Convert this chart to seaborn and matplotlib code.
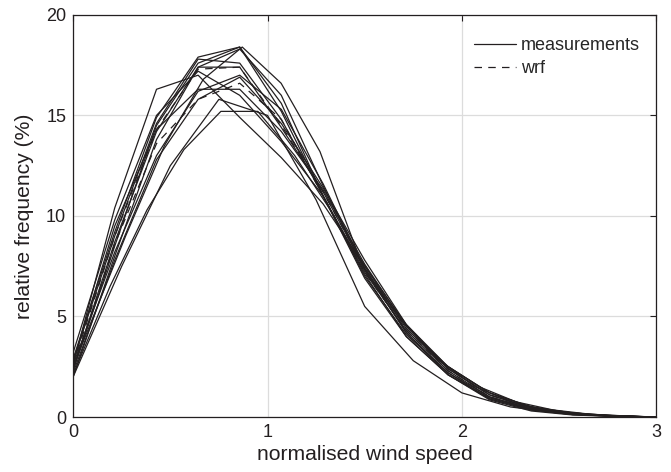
import matplotlib
matplotlib.use("Agg")
import matplotlib.pyplot as plt
import seaborn as sns
from matplotlib.lines import Line2D

# regular bin centres (most stations)
x_grid = [0.0, 0.214, 0.429, 0.643, 0.857, 1.071, 1.286, 1.5, 1.714, 1.929, 2.143, 2.357, 2.571, 2.786, 3.0]

meas_1 = [2.6, 10.4, 16.3, 17.0, 14.9, 12.9, 10.6, 7.5, 4.6, 2.5, 1.2, 0.5, 0.2, 0.06, 0.0]
meas_2 = [2.3, 8.5, 14.5, 17.6, 18.4, 15.2, 11.0, 7.2, 4.3, 2.3, 1.0, 0.4, 0.15, 0.05, 0.0]
meas_3 = [2.0, 8.0, 13.8, 17.4, 18.3, 16.0, 11.5, 7.3, 4.2, 2.2, 0.9, 0.35, 0.12, 0.04, 0.0]
meas_4 = [2.8, 9.0, 14.6, 17.8, 17.6, 14.8, 11.0, 7.0, 4.1, 2.2, 1.0, 0.4, 0.15, 0.05, 0.0]
meas_5 = [2.4, 8.7, 14.2, 17.4, 17.4, 14.4, 11.2, 7.4, 4.4, 2.4, 1.1, 0.45, 0.17, 0.05, 0.0]
meas_6 = [2.7, 9.5, 14.3, 16.3, 16.3, 14.2, 11.3, 7.6, 4.5, 2.5, 1.2, 0.5, 0.2, 0.06, 0.0]
meas_7 = [2.2, 7.8, 12.8, 15.8, 16.9, 14.6, 11.4, 7.8, 4.6, 2.4, 1.1, 0.45, 0.17, 0.05, 0.0]
meas_8 = [3.2, 9.8, 15.0, 17.2, 16.0, 13.7, 11.0, 7.1, 4.0, 2.1, 0.9, 0.35, 0.12, 0.04, 0.0]
meas_9 = [2.6, 8.2, 13.0, 16.2, 17.0, 15.3, 11.6, 7.4, 4.2, 2.1, 0.85, 0.3, 0.1, 0.03, 0.0]
meas_10 = [2.9, 9.2, 14.9, 17.9, 18.4, 15.6, 11.0, 6.9, 4.0, 2.1, 0.95, 0.38, 0.14, 0.04, 0.0]

# stations with other bin centres
x_grid_b = [0.0, 0.19, 0.38, 0.57, 0.76, 0.95, 1.14, 1.33, 1.52, 1.71, 1.9, 2.09, 2.28, 2.47, 2.66, 2.85, 3.0]
meas_11 = [2.1, 6.5, 10.3, 13.3, 15.2, 15.2, 13.0, 10.2, 7.0, 4.6, 2.7, 1.5, 0.75, 0.35, 0.14, 0.05, 0.0]

x_grid_c = [0.0, 0.25, 0.5, 0.75, 1.0, 1.25, 1.5, 1.75, 2.0, 2.25, 2.5, 2.75, 3.0]
meas_12 = [2.0, 7.5, 12.5, 15.8, 15.0, 10.8, 5.5, 2.8, 1.2, 0.5, 0.2, 0.05, 0.0]

x_grid_d = [0.0, 0.27, 0.47, 0.67, 0.87, 1.07, 1.27, 1.47, 1.67, 1.87, 2.07, 2.27, 2.47, 2.67, 2.87, 3.0]
meas_13 = [2.5, 9.0, 13.5, 16.8, 18.4, 16.6, 13.2, 8.0, 5.0, 2.9, 1.5, 0.7, 0.3, 0.12, 0.04, 0.0]

wrf_1 = [2.4, 8.6, 13.6, 15.8, 16.6, 14.8, 11.0, 7.2, 4.3, 2.3, 1.0, 0.4, 0.15, 0.05, 0.0]
wrf_2 = [2.6, 9.0, 14.3, 17.3, 17.4, 14.5, 11.2, 7.4, 4.4, 2.4, 1.1, 0.45, 0.17, 0.05, 0.0]

measurements = [
    (x_grid, meas_1), (x_grid, meas_2), (x_grid, meas_3), (x_grid, meas_4),
    (x_grid, meas_5), (x_grid, meas_6), (x_grid, meas_7), (x_grid, meas_8),
    (x_grid, meas_9), (x_grid, meas_10), (x_grid_b, meas_11),
    (x_grid_c, meas_12), (x_grid_d, meas_13),
]
wrf = [(x_grid, wrf_1), (x_grid, wrf_2)]

sns.set_theme(style="white")
plt.rcParams['font.family'] = ['Liberation Sans', 'DejaVu Sans']

fig = plt.figure(figsize=(6.71, 4.72), dpi=100)
ax = fig.add_axes([0.109, 0.1165, 0.869, 0.852])

ink = '#231f20'
lw = 0.9
dash = (6, 5)
for xs, ys in wrf:
    sns.lineplot(x=xs, y=ys, ax=ax, color=ink, lw=lw, dashes=dash,
                 sort=False, estimator=None)
for xs, ys in measurements:
    sns.lineplot(x=xs, y=ys, ax=ax, color=ink, lw=lw,
                 sort=False, estimator=None)

ax.set_xlim(0, 3)
ax.set_ylim(0, 20)
ax.set_xticks([0, 1, 2, 3])
ax.set_yticks([0, 5, 10, 15, 20])
ax.grid(True, color='#dcdcdc', lw=0.9)
ax.set_axisbelow(True)
for s in ax.spines.values():
    s.set_color(ink)
    s.set_linewidth(0.9)
ax.tick_params(direction='in', length=4, width=0.8, top=True, right=True,
               labelsize=13, colors=ink, pad=5)
ax.set_xlabel('normalised wind speed', fontsize=15.2, color=ink, labelpad=3)
ax.set_ylabel('relative frequency (%)', fontsize=15.2, color=ink, labelpad=9)

handles = [Line2D([], [], color=ink, lw=lw, linestyle='-'),
           Line2D([], [], color=ink, lw=lw, dashes=dash)]
ax.legend(handles, ['measurements', 'wrf'], loc='upper right', frameon=False,
          fontsize=13, handlelength=2.3, handletextpad=0.3, labelspacing=0.35,
          bbox_to_anchor=(1.0, 0.985))

fig.savefig('out.png', dpi=100)
